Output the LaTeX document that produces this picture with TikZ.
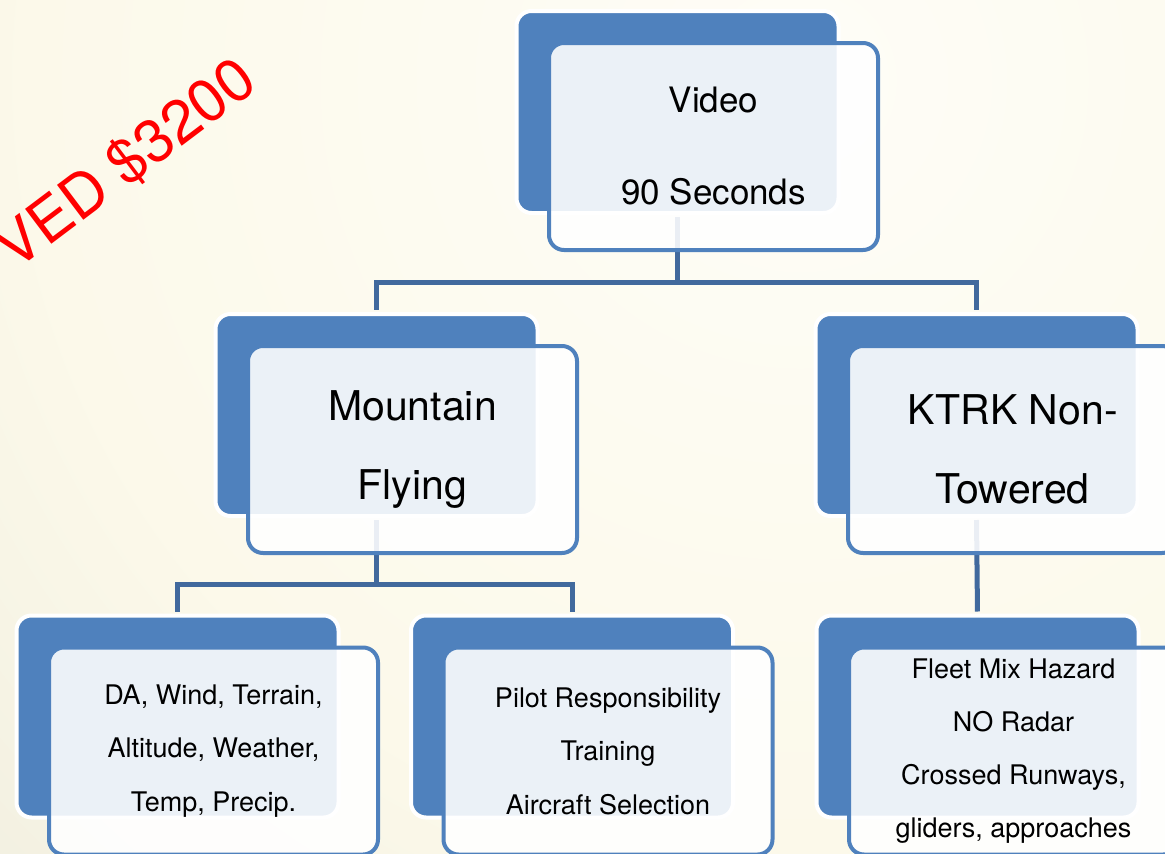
\documentclass[tikz,border=0pt]{standalone}
\usepackage{fontspec}
\setmainfont{TeX Gyre Heros}
\usepackage{xcolor}
\usepackage{tikz}
\usetikzlibrary{calc}
\definecolor{boxblue}{HTML}{4F81BD}
\definecolor{linkblue}{HTML}{41699D}
\definecolor{bgA}{HTML}{FEFDF7}
\definecolor{bgB}{HTML}{FCF9EA}
\definecolor{bgC}{HTML}{EDEBDC}
\definecolor{bgD}{HTML}{DCD9C7}
\definecolor{bgE}{HTML}{C4C0AC}
\pgfdeclareradialshading{bgglow}{\pgfpoint{0bp}{0bp}}{color(0bp)=(bgA); color(16bp)=(bgB); color(28bp)=(bgC); color(37bp)=(bgD); color(50bp)=(bgE)}

\begin{document}
\begin{tikzpicture}[x=1pt,y=-1pt]
  \tikzset{backbox/.style={rectangle,rounded corners=15pt,fill=boxblue,draw=white,line width=4pt,minimum width=322pt,minimum height=202pt,inner sep=0pt},
           frontbox/.style={rectangle,rounded corners=15pt,fill=white,fill opacity=0.89,text opacity=1,draw=boxblue,draw opacity=1,line width=4pt,minimum width=329pt,minimum height=207pt,inner sep=0pt,align=center,text=black},
           link/.style={draw=linkblue,line width=5pt,shorten <=2pt,shorten >=2pt}};
  \useasboundingbox (0,0) rectangle (1165,854);
  \clip (0,0) rectangle (1165,854);
  \shade[shading=bgglow] (-400,-1120) rectangle (2000,1280);
  \node[text=red,font=\fontsize{60}{64}\selectfont,rotate=37] (price) at (126,164) {VED \$3200};
  \node[backbox] (videoBack) at (677.5,112){};
  \node[backbox] (mtnBack)   at (376.5,415){};
  \node[backbox] (ktrkBack)  at (976.5,415){};
  \node[backbox] (wxBack)    at (177.5,716.5){};
  \node[backbox] (pilotBack) at (572,716.5){};
  \node[backbox] (fleetBack) at (977.5,716.5){};
  \draw[link] (videoBack.south) -- ++(0,67) -| (mtnBack.north);
  \draw[link] (videoBack.south) -- ++(0,67) -| (ktrkBack.north);
  \draw[link] (mtnBack.south) -- ++(0,66) -| (wxBack.north);
  \draw[link] (mtnBack.south) -- ++(0,66) -| (pilotBack.north);
  \draw[link] (ktrkBack.south) -- (fleetBack.north);
  \node[frontbox,font=\fontsize{35}{92}\selectfont] (video) at ($(videoBack)+(36,34.5)$){Video\\90 Seconds};
  \node[frontbox,font=\fontsize{41}{79}\selectfont] (mtn)   at ($(mtnBack)+(36,34.5)$){Mountain\\Flying};
  \node[frontbox,font=\fontsize{41}{79}\selectfont] (ktrk)  at ($(ktrkBack)+(36,34.5)$){KTRK Non-\\Towered};
  \node[frontbox,font=\fontsize{27}{53.5}\selectfont] (wx)    at ($(wxBack)+(36,34.5)$){DA, Wind, Terrain,\\Altitude, Weather,\\Temp, Precip.};
  \node[frontbox,font=\fontsize{27}{53.5}\selectfont] (pilot) at ($(pilotBack)+(36,34.5)$){Pilot Responsibility\\Training\\Aircraft Selection};
  \node[frontbox,font=\fontsize{27}{53}\selectfont] (fleet) at ($(fleetBack)+(36,34.5)$){Fleet Mix Hazard\\NO Radar\\Crossed Runways,\\gliders, approaches};
\end{tikzpicture}
\end{document}
